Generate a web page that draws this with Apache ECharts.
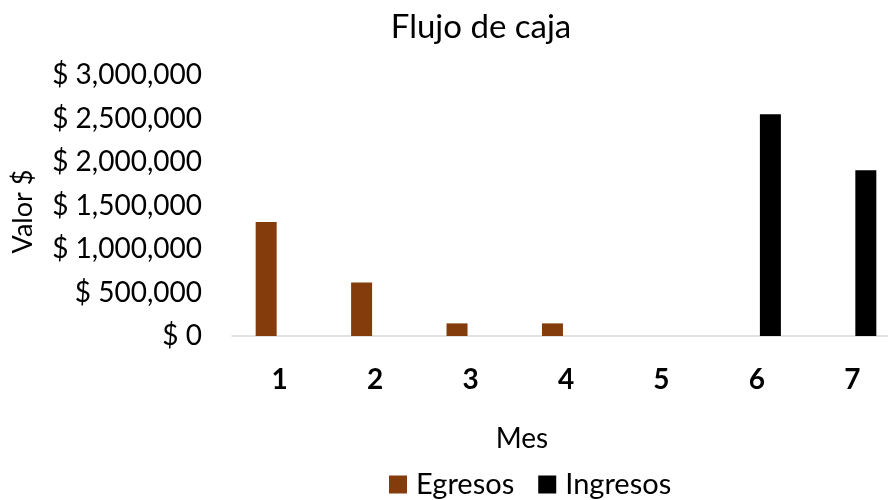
<!DOCTYPE html>
<html>
<head>
<meta charset="utf-8">
<script src="https://cdn.jsdelivr.net/npm/echarts@6/dist/echarts.min.js"></script>
<style>
  html, body { margin: 0; padding: 0; background: #ffffff; }
  #chart { width: 888px; height: 500px; }
</style>
</head>
<body>
<div id="chart"></div>
<script>
// Monthly cash flow: outflows (Egresos) and inflows (Ingresos)
const months = ['1', '2', '3', '4', '5', '6', '7'];
const egresos = [1310000, 615000, 145000, 145000, null, null, null];
const ingresos = [null, null, null, null, null, 2550000, 1905000];
const yTicks = [0, 500000, 1000000, 1500000, 2000000, 2500000, 3000000];

const FONT = 'Lato, "Open Sans", sans-serif';

function money(v) {
  return '$ ' + v.toLocaleString('en-US');
}

const chart = echarts.init(document.getElementById('chart'), null, { renderer: 'canvas' });

chart.setOption({
  animation: false,
  backgroundColor: '#ffffff',
  textStyle: { fontFamily: FONT, color: '#000000' },
  title: {
    text: 'Flujo de caja',
    left: 476,
    textAlign: 'center',
    top: 6,
    textStyle: { fontFamily: FONT, fontSize: 33, fontWeight: 'normal', color: '#000000' }
  },
  legend: {
    left: 384,
    top: 465,
    itemWidth: 18,
    itemHeight: 18,
    itemGap: 24,
    icon: 'rect',
    textStyle: { fontFamily: FONT, fontSize: 29, color: '#000000', padding: [0, 0, 0, 4] },
    data: ['Egresos', 'Ingresos']
  },
  grid: {
    left: 232,
    width: 668,
    top: 75,
    height: 261,
    containLabel: false,
    outerBoundsMode: 'none'
  },
  xAxis: {
    type: 'category',
    data: months,
    name: 'Mes',
    nameLocation: 'middle',
    nameGap: 89,
    nameTextStyle: { fontFamily: FONT, fontSize: 28, color: '#000000', padding: [0, 88, 0, 0] },
    axisLine: { show: true, lineStyle: { color: '#d9d9d9', width: 1.5 } },
    axisTick: { show: false },
    axisLabel: { margin: 30, fontFamily: FONT, fontSize: 28, fontWeight: 'bold', color: '#000000' }
  },
  yAxis: {
    type: 'value',
    min: 0,
    max: 3000000,
    interval: 500000,
    name: 'Valor $',
    nameLocation: 'middle',
    nameRotate: 90,
    nameGap: 195,
    nameTextStyle: { fontFamily: FONT, fontSize: 27, color: '#000000', padding: [0, 12, 0, 0] },
    axisLine: { show: false },
    axisTick: { show: false },
    splitLine: { show: false },
    axisLabel: {
      margin: 30,
      fontFamily: FONT,
      fontSize: 28,
      color: '#000000',
      formatter: function (v) { return yTicks.indexOf(v) >= 0 ? money(v) : ''; }
    }
  },
  series: [
    {
      name: 'Egresos',
      type: 'bar',
      data: egresos,
      barWidth: 21,
      barGap: '29%',
      itemStyle: { color: '#843c0c' }
    },
    {
      name: 'Ingresos',
      type: 'bar',
      data: ingresos,
      barWidth: 21,
      barGap: '29%',
      itemStyle: { color: '#000000' }
    }
  ]
});
</script>
</body>
</html>
